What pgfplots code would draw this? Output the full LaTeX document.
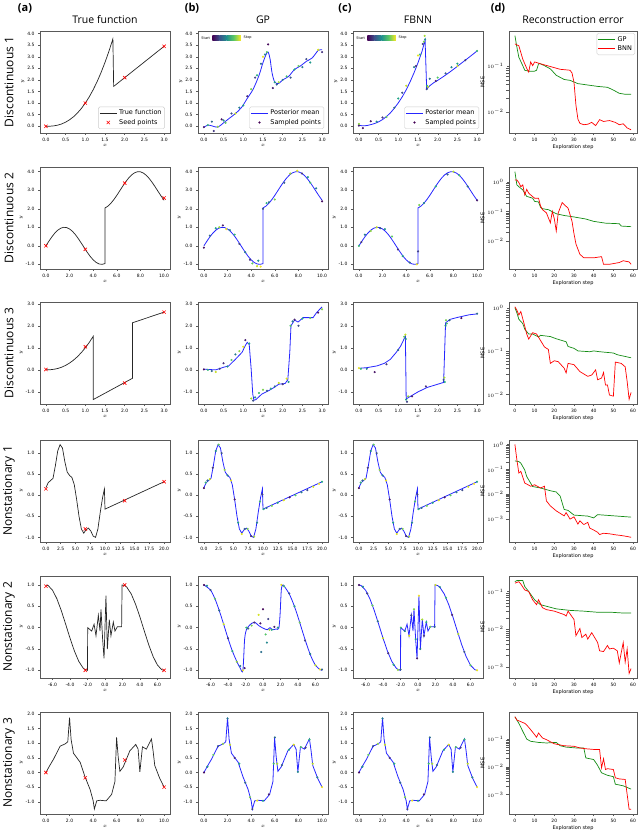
\documentclass[border=0pt]{standalone}
\usepackage{fontspec}
\setmainfont{DejaVu Sans}
\newfontfamily\titlefont{Open Sans}
\usepackage{pgfplots}
\usepackage{pgfplotstable}
\pgfplotsset{compat=1.18}

\definecolor{gpgreen}{RGB}{20,140,20}
\definecolor{v0}{HTML}{440154}
\definecolor{v1}{HTML}{3B528B}
\definecolor{v2}{HTML}{21918C}
\definecolor{v3}{HTML}{5EC962}
\definecolor{v4}{HTML}{FDE725}

\tikzset{cbar/.style={font=\fontsize{3.5}{4}\selectfont, inner sep=0pt, anchor=west},
  truef/.style={black!85, line width=0.7pt},
  seed/.style={only marks, mark=x, mark size=2.3pt, red, line width=0.6pt},
  mean/.style={blue, line width=0.8pt, opacity=0.85},
  gpl/.style={gpgreen, line width=0.7pt},
  bnnl/.style={red, line width=0.7pt}}
\newcommand{\colbar}{%
  \shade[left color=v0, right color=v1] (rel axis cs:0.110,0.905) rectangle (rel axis cs:0.166,0.96);
  \shade[left color=v1, right color=v2] (rel axis cs:0.165,0.905) rectangle (rel axis cs:0.221,0.96);
  \shade[left color=v2, right color=v3] (rel axis cs:0.220,0.905) rectangle (rel axis cs:0.276,0.96);
  \shade[left color=v3, right color=v4] (rel axis cs:0.275,0.905) rectangle (rel axis cs:0.330,0.96);
  \node[cbar] at (rel axis cs:0.025,0.932) {Start};
  \node[cbar] at (rel axis cs:0.35,0.932) {Stop};}
\pgfplotsset{
  base/.style={scale only axis, anchor=north west, height=102pt,
    axis line style={black!65, line width=0.6pt},
    tick style={black!65, line width=0.4pt}, tick align=outside,
    major tick length=2pt, xtick pos=bottom, ytick pos=left,
    ticklabel style={font=\fontsize{4.5}{5}\selectfont},
    label style={font=\fontsize{5}{5}\selectfont},
    xlabel style={yshift=4pt}, ylabel style={yshift=-4pt},
    /pgf/number format/assume math mode=true,
    colormap/viridis,
    legend style={font=\fontsize{6.5}{7.5}\selectfont, draw=black!20, rounded corners=1.5pt, inner sep=1pt, row sep=-1pt},
    legend cell align=left},
  fnax/.style={base, width=130pt, xlabel={$x$}, ylabel={$y$},
    /pgf/number format/fixed, /pgf/number format/fixed zerofill, /pgf/number format/precision=1},
  errax/.style={base, width=128pt, xmin=-3, xmax=62, xtick={0,10,...,60},
    xlabel={Exploration step}, ylabel={MSE}},
  samp/.style={forget plot, scatter, only marks, mark=*, mark size=0.85pt, scatter src=explicit,
    scatter/use mapped color={draw=mapped color, fill=mapped color}, point meta min=0, point meta max=60},
}

% ---------- functions ----------
\pgfplotstableread{
x y
0.0 0.0
0.1 0.003
0.2 0.018
0.3 0.049
0.4 0.101
0.5 0.177
0.6 0.279
0.7 0.410
0.8 0.572
0.9 0.768
1.0 1.000
1.1 1.269
1.2 1.577
1.3 1.927
1.4 2.319
1.5 2.756
1.6 3.238
1.7 3.768
1.72 1.72
3.0 3.45
}\tA
\pgfplotstableread{
x y
0.0 -0.04
0.1 0.05
0.2 0.02
0.35 -0.04
0.5 0.15
0.65 0.35
0.8 0.55
0.95 0.8
1.1 1.2
1.25 1.6
1.4 2.2
1.5 2.75
1.58 3.1
1.63 3.2
1.68 2.9
1.73 2.3
1.8 1.9
1.9 1.85
2.0 2.0
2.15 2.15
2.3 2.45
2.45 2.6
2.6 2.8
2.75 2.95
2.9 3.27
3.0 3.3
}\gA
\pgfplotstableread{
x y
0.0 0.04
0.1 0.02
0.2 0.03
0.3 0.07
0.4 0.12
0.5 0.19
0.6 0.29
0.7 0.42
0.8 0.58
0.9 0.78
1.0 1.01
1.1 1.27
1.2 1.57
1.3 1.92
1.4 2.31
1.5 2.74
1.6 3.22
1.68 3.72
1.72 1.60
1.8 1.75
1.9 1.88
2.0 1.98
2.15 2.15
2.3 2.33
2.45 2.52
2.6 2.72
2.8 2.98
3.0 3.25
}\fA
\pgfplotstableread{
x y
0.0 0.0
0.25 0.247
0.5 0.479
0.75 0.682
1.0 0.841
1.25 0.949
1.5 0.997
1.75 0.984
2.0 0.909
2.25 0.778
2.5 0.598
2.75 0.382
3.0 0.141
3.25 -0.108
3.5 -0.351
3.75 -0.572
4.0 -0.757
4.25 -0.895
4.5 -0.978
4.75 -0.999
5.0 -0.959
5.0 2.041
5.25 2.141
5.5 2.295
5.75 2.492
6.0 2.721
6.25 2.967
6.5 3.215
6.75 3.450
7.0 3.657
7.25 3.823
7.5 3.938
7.75 3.994
8.0 3.989
8.25 3.923
8.5 3.798
8.75 3.624
9.0 3.412
9.25 3.174
9.5 2.925
9.75 2.681
10.0 2.456
}\tB
\pgfplotstableread{
x y
0.0 0.0
0.1 0.005
0.2 0.025
0.3 0.063
0.4 0.122
0.5 0.203
0.6 0.309
0.7 0.440
0.8 0.599
0.9 0.785
1.0 1.0
1.1 1.245
1.2 1.521
1.2 -1.35
2.2 -0.38
2.2 2.14
3.0 2.62
}\tC
\pgfplotstableread{
x y
0.0 0.03
0.3 0.0
0.5 0.12
0.63 0.18
0.8 0.48
0.97 0.8
1.05 1.1
1.1 1.25
1.15 1.15
1.2 0.03
1.24 -1.1
1.27 -1.38
1.32 -1.35
1.47 -1.1
1.64 -0.95
1.8 -0.78
1.9 -0.65
2.06 -0.62
2.13 -0.45
2.18 0.8
2.21 2.0
2.3 2.26
2.39 2.17
2.52 2.37
2.77 2.37
2.86 2.6
3.0 2.86
}\gC
\pgfplotstableread{
x y
0.0 0.07
0.2 0.1
0.46 0.18
0.65 0.3
0.8 0.48
0.95 0.8
1.06 1.08
1.18 1.53
1.2 -1.32
1.31 -1.2
1.5 -1.0
1.73 -0.8
1.95 -0.68
2.15 -0.57
2.2 2.13
2.31 2.29
2.5 2.38
2.65 2.44
2.8 2.5
3.0 2.54
}\fC
\pgfplotstableread{
x y
0.0 0.18
0.4 0.30
0.8 0.35
1.2 0.40
1.6 0.70
2.0 1.05
2.4 1.20
2.8 1.12
3.2 0.80
3.6 0.55
4.0 0.47
4.4 0.42
4.8 0.25
5.2 -0.10
5.6 -0.50
6.0 -0.80
6.4 -0.90
6.8 -0.82
7.2 -0.78
7.6 -0.85
8.0 -0.97
8.4 -1.00
8.8 -0.80
9.2 -0.40
9.6 -0.05
9.9 0.15
10.0 -0.33
20.0 0.32
}\tD
\pgfplotstableread{
x y
-6.75 1.0
-6.5 0.986
-6.0 0.879
-5.5 0.677
-5.0 0.402
-4.5 0.083
-4.0 -0.245
-3.5 -0.546
-3.0 -0.789
-2.5 -0.946
-2.25 -0.986
-2.0 -1.0
-1.98 0.0
-1.52 -0.08
-1.25 0.08
-1.03 -0.19
-0.76 0.29
-0.57 -0.08
-0.46 0.43
-0.27 -0.27
-0.11 -0.72
0.11 0.75
0.27 -0.5
0.49 0.19
0.68 -0.19
0.95 0.13
1.14 -0.08
1.41 0.02
1.9 0.02
1.95 1.0
2.25 0.986
2.5 0.946
3.0 0.789
3.5 0.546
4.0 0.245
4.5 -0.083
5.0 -0.402
5.5 -0.677
6.0 -0.879
6.5 -0.986
6.75 -1.0
}\tE
\pgfplotstableread{
x y
-6.75 1.0
-6.0 0.88
-5.5 0.68
-5.0 0.4
-4.5 0.08
-4.0 -0.25
-3.5 -0.55
-3.0 -0.79
-2.6 -0.95
-2.3 -1.0
-2.1 -0.27
-1.9 -0.05
-1.7 0.02
-1.3 0.1
-0.9 0.12
-0.5 0.05
-0.1 0.0
0.2 -0.03
0.5 -0.05
0.8 0.0
1.1 -0.05
1.5 -0.03
1.8 -0.02
1.95 0.3
2.1 0.9
2.3 1.0
2.5 0.95
3.0 0.79
3.5 0.55
4.0 0.25
4.5 -0.08
5.0 -0.4
5.5 -0.68
6.0 -0.88
6.5 -0.98
6.75 -1.0
}\gE
\pgfplotstableread{
x y
0.0 0.0
0.3 0.22
0.65 0.46
1.2 0.9
1.63 0.98
1.85 1.05
2.0 1.88
2.13 1.14
2.33 0.66
2.9 0.35
3.3 -0.14
3.74 -0.58
4.0 -0.97
4.1 -1.25
4.3 -0.97
4.58 -0.95
5.1 -0.97
5.56 -0.75
5.84 -0.31
5.98 1.2
6.12 0.52
6.26 0.04
6.54 0.19
7.1 0.74
7.6 0.96
7.8 0.8
7.95 0.02
8.17 0.88
8.5 0.8
8.93 1.15
9.07 0.74
9.21 0.24
9.63 -0.2
10.0 -0.5
}\tF

% ---------- sampled points ----------
\pgfplotstableread{
x y s
0.00 -0.04 5
0.10 0.05 40
0.20 0.20 20
0.25 -0.20 10
0.35 -0.02 50
0.45 0.30 3
0.50 0.25 30
0.55 0.15 45
0.70 0.55 15
0.80 0.55 55
0.90 0.80 25
1.00 0.90 35
1.10 1.30 8
1.20 1.60 48
1.30 2.10 12
1.35 2.20 38
1.45 2.70 22
1.50 3.00 58
1.55 3.10 28
1.60 3.20 44
1.63 3.53 1
1.75 1.65 6
1.80 1.90 33
1.85 1.80 18
1.90 1.90 52
2.00 2.00 26
2.10 2.15 42
2.20 2.10 16
2.30 2.45 36
2.40 2.60 46
2.50 2.55 24
2.60 2.90 14
2.70 2.75 32
2.90 3.30 56
3.00 3.20 9
}\pA
\pgfplotstableread{
x y s
0.0 0.1 50
0.0 0.03 5
0.1 -0.08 2
0.3 0.22 4
0.45 0.2 30
0.6 0.38 10
0.7 0.4 45
0.9 0.8 20
1.0 1.2 35
1.1 1.45 15
1.2 1.75 55
1.4 2.55 25
1.45 2.6 8
1.5 3.05 58
1.55 3.1 40
1.62 3.55 12
1.65 3.65 48
1.67 3.9 52
1.68 3.75 30
1.72 1.6 14
1.73 1.75 38
1.75 1.7 54
1.8 2.05 22
1.95 1.95 6
2.0 2.1 44
2.2 2.28 18
2.35 2.55 28
2.5 2.6 57
2.5 2.7 34
2.7 2.85 11
3.0 3.25 42
}\qA
\pgfplotstableread{
x y s
0.0 -0.1 3
0.5 0.55 20
1.0 0.95 35
1.3 1.0 50
1.6 1.1 5
1.9 0.9 58
2.2 0.85 28
2.6 0.6 40
3.0 0.1 12
3.5 -0.35 25
3.9 -0.75 8
4.1 -0.95 45
4.5 -1.1 55
4.6 -0.8 30
4.8 -1.12 59
5.0 2.0 15
5.3 2.3 38
5.5 2.35 22
6.0 2.5 48
6.8 3.4 18
7.3 3.9 52
7.9 4.05 57
8.3 3.9 10
8.8 3.7 33
9.0 3.4 42
9.5 3.1 26
10.0 2.4 2
}\pB
\pgfplotstableread{
x y s
0.0 0.0 40
0.2 0.2 10
0.5 0.6 25
1.0 0.8 50
1.5 1.0 55
1.8 0.95 15
2.2 0.9 30
2.8 0.5 45
3.3 -0.2 8
3.7 -0.55 35
4.3 -0.9 20
4.9 -1.0 58
5.0 -0.3 12
5.1 2.2 48
5.5 2.3 28
6.5 3.2 38
7.5 3.85 18
8.0 4.0 53
8.5 3.8 42
9.2 3.2 22
10.0 2.45 5
}\qB
\pgfplotstableread{
x y s
0.0 0.02 2
0.1 0.0 40
0.2 -0.05 20
0.3 -0.1 55
0.4 0.05 12
0.5 0.3 8
0.6 0.15 30
0.7 0.45 45
0.8 0.7 25
0.9 0.85 50
1.0 1.05 58
1.05 1.35 5
1.15 1.2 35
1.2 -1.3 52
1.25 -1.4 15
1.3 -1.25 28
1.4 -1.05 42
1.5 -0.9 48
1.6 -0.95 18
1.7 -0.85 38
1.8 -0.75 22
1.9 -0.6 55
2.0 -0.65 10
2.1 -0.4 57
2.15 -0.55 32
2.2 2.0 44
2.25 2.2 26
2.3 2.28 6
2.4 2.0 14
2.5 2.33 36
2.7 2.35 46
2.9 2.6 3
3.0 2.75 49
}\pC
\pgfplotstableread{
x y s
0.0 0.08 58
0.05 0.05 40
0.2 0.05 25
0.4 -0.1 3
0.7 0.25 10
1.0 0.9 20
1.15 1.5 45
1.18 1.6 55
1.19 1.4 30
1.2 -1.35 35
1.22 -1.45 12
1.25 -1.2 50
1.35 -1.2 5
1.7 -0.75 8
2.15 -0.45 15
2.17 -0.35 52
2.18 -0.55 38
2.2 2.0 28
2.21 2.25 48
2.23 2.1 42
2.3 2.25 18
2.6 2.35 2
3.0 2.55 22
}\qC
\pgfplotstableread{
x y s
0.0 0.17 2
0.3 0.3 40
0.6 0.35 20
1.0 0.38 55
1.5 0.65 10
2.0 1.05 30
2.5 1.2 45
3.0 1.0 15
3.5 0.6 50
4.0 0.47 25
4.6 0.35 58
5.2 -0.1 5
5.8 -0.65 35
6.4 -0.92 57
6.9 -0.8 18
7.4 -0.8 48
8.0 -0.97 8
8.5 -0.98 52
9.0 -0.65 28
9.5 -0.15 42
9.9 0.02 12
10.1 -0.33 38
10.6 -0.3 22
11.5 -0.25 47
12.5 -0.18 33
13.5 -0.12 57
14.5 -0.05 4
15.5 0.0 44
16.5 0.07 24
17.5 0.12 14
18.5 0.2 56
19.5 0.27 59
20.0 0.32 36
}\pD
\pgfplotstableread{
x y s
-6.75 1.0 2
-6.4 0.98 30
-6.0 0.88 15
-5.5 0.68 45
-5.0 0.4 20
-4.5 0.08 55
-4.0 -0.25 10
-3.5 -0.55 35
-3.0 -0.8 50
-2.6 -0.9 25
-2.3 -1.0 58
-2.1 -0.95 5
-1.9 0.0 40
-1.7 -0.02 18
-1.3 0.05 48
-1.0 0.12 8
-0.5 0.3 56
-0.3 0.1 3
0.0 0.43 1
-0.2 -0.57 22
0.3 -0.16 44
0.45 -0.35 28
0.6 0.2 12
0.75 -0.05 52
1.0 -0.05 38
1.3 0.02 5
1.7 0.0 30
2.1 1.0 57
2.4 0.97 42
3.0 0.8 16
3.6 0.5 33
4.2 0.12 47
4.8 -0.3 11
5.4 -0.62 26
6.0 -0.88 54
6.5 -0.98 59
6.75 -0.98 19
}\pE
\pgfplotstableread{
x y s
-6.75 1.0 3
-6.3 0.96 30
-5.8 0.80 12
-5.2 0.52 45
-4.6 0.15 22
-4.0 -0.25 55
-3.4 -0.60 8
-2.8 -0.87 38
-2.3 -0.99 50
-2.0 -0.98 18
-1.95 0.0 42
-1.5 -0.08 27
-1.0 -0.19 57
-0.76 0.29 14
-0.46 0.43 48
-0.27 -0.27 33
-0.11 -0.72 5
0.11 0.75 59
0.27 -0.5 24
0.49 0.19 52
0.68 -0.19 10
0.95 0.13 36
1.4 0.02 46
1.9 0.02 20
2.0 1.0 56
2.5 0.95 28
3.2 0.7 40
3.9 0.3 6
4.6 -0.15 53
5.3 -0.57 16
6.0 -0.88 44
6.75 -1.0 58
}\qE
\pgfplotstableread{
x y s
0.0 0.0 2
0.3 0.2 30
0.8 0.6 45
1.2 0.9 15
1.6 0.98 50
2.0 1.85 25
2.2 0.95 55
2.6 0.5 8
3.0 0.3 38
3.5 -0.35 20
3.9 -0.85 48
4.1 -1.25 12
4.5 -0.96 58
5.0 -0.97 33
5.5 -0.75 5
5.9 0.3 42
6.0 1.2 22
6.2 0.3 52
6.6 0.25 18
7.2 0.78 35
7.6 0.95 57
7.95 0.02 28
8.2 0.87 44
8.6 0.85 10
8.93 1.13 40
9.2 0.3 54
9.6 -0.17 26
10.0 -0.5 59
}\pF

% ---------- reconstruction error ----------
\pgfplotstableread{
x y
0 4.57e-1
1 2.57e-1
2 1.55e-1
4 1.02e-1
5 8.13e-2
7 7.76e-2
10 7.76e-2
11 8.13e-2
12 1.12e-1
13 1.12e-1
15 1.02e-1
18 8.71e-2
21 6.31e-2
25 5.13e-2
28 4.90e-2
32 4.17e-2
37 3.89e-2
42 3.63e-2
47 3.47e-2
50 3.02e-2
53 2.57e-2
56 2.45e-2
59 2.45e-2
}\eAg
\pgfplotstableread{
x y
0 3.02e-1
2 2.75e-1
4 1.41e-1
6 8.91e-2
7 7.41e-2
8 1.23e-1
9 1.02e-1
10 1.23e-1
13 1.12e-1
18 9.77e-2
23 8.51e-2
28 8.13e-2
29 7.08e-2
30 4.47e-2
31 1.41e-2
32 7.08e-3
33 5.75e-3
35 5.37e-3
37 5.50e-3
39 6.03e-3
41 5.13e-3
43 6.92e-3
45 6.31e-3
48 6.61e-3
51 6.03e-3
53 5.37e-3
55 5.62e-3
57 4.57e-3
59 4.17e-3
}\eAb
\pgfplotstableread{
x y
0 2.29
1 8.13e-1
2 7.08e-1
4 5.50e-1
6 3.31e-1
9 2.88e-1
10 2.24e-1
12 2.14e-1
13 1.41e-1
14 1.26e-1
17 1.17e-1
21 8.51e-2
25 7.41e-2
30 6.61e-2
36 5.62e-2
40 4.68e-2
46 4.07e-2
53 3.89e-2
54 3.24e-2
59 3.09e-2
}\eBg
\pgfplotstableread{
x y
0 1.20
1 1.20
2 9.77e-1
3 7.08e-1
4 8.13e-1
5 3.72e-1
6 5.75e-1
7 4.27e-1
8 3.72e-1
10 2.88e-1
12 2.88e-1
13 1.58e-1
14 1.17e-1
16 9.12e-2
18 4.17e-2
19 1.02e-1
20 5.75e-2
21 2.19e-2
22 9.12e-2
24 2.04e-1
25 1.74e-1
27 1.32e-1
28 7.94e-2
29 4.68e-2
30 1.78e-2
31 7.94e-3
33 3.55e-3
35 2.69e-3
40 2.69e-3
44 2.95e-3
45 1.62e-3
48 1.62e-3
53 1.86e-3
55 2.14e-3
58 1.95e-3
59 1.62e-3
}\eBb
\pgfplotstableread{
x y
0 1.02
1 7.76e-1
2 5.50e-1
4 4.37e-1
5 3.24e-1
7 2.51e-1
9 2.51e-1
12 2.14e-1
13 2.34e-1
18 2.19e-1
21 1.95e-1
26 1.66e-1
27 1.29e-1
30 1.17e-1
32 1.02e-1
38 9.77e-2
40 1.02e-1
43 9.77e-2
50 9.12e-2
52 8.32e-2
55 7.76e-2
59 7.08e-2
}\eCg
\pgfplotstableread{
x y
0 1.07
1 8.91e-1
2 6.92e-1
3 8.32e-1
5 3.80e-1
6 2.51e-1
7 1.91e-1
9 2.69e-1
11 2.51e-1
13 1.78e-1
15 1.26e-1
17 1.10e-1
18 5.25e-2
20 6.03e-2
22 5.75e-2
25 4.07e-2
26 3.16e-2
27 5.25e-2
30 4.90e-2
33 3.39e-2
37 2.63e-2
39 2.82e-2
41 3.72e-2
42 2.19e-2
44 2.40e-2
45 3.24e-2
46 1.66e-2
47 1.66e-2
48 9.77e-3
50 9.12e-3
51 5.62e-2
53 5.37e-2
54 5.25e-2
56 4.37e-2
57 2.00e-2
58 7.76e-3
59 1.12e-2
}\eCb
\pgfplotstableread{
x y
0 2.19e-1
2 2.04e-1
3 1.78e-1
5 9.33e-2
6 5.13e-2
9 2.04e-2
13 1.78e-2
18 1.38e-2
21 1.23e-2
23 8.32e-3
25 2.45e-3
27 2.24e-3
30 1.45e-3
37 1.32e-3
40 1.12e-3
42 1.51e-3
45 1.45e-3
52 1.32e-3
59 1.20e-3
}\eDg
\pgfplotstableread{
x y
0 1.00
1 2.40e-1
2 7.08e-2
3 8.32e-2
5 2.82e-2
6 2.57e-2
8 2.09e-2
10 2.40e-2
13 1.78e-2
15 2.09e-2
16 5.37e-3
18 3.39e-3
21 2.14e-3
25 1.35e-3
26 1.82e-3
28 1.00e-3
30 1.23e-3
32 6.31e-4
33 8.51e-4
35 6.03e-4
37 7.41e-4
38 4.37e-4
40 3.63e-4
42 2.95e-4
43 2.40e-4
45 2.69e-4
48 2.57e-4
51 2.34e-4
54 2.19e-4
57 2.00e-4
59 1.86e-4
}\eDb
\pgfplotstableread{
x y
0 1.82e-1
1 1.95e-1
4 1.95e-1
5 1.35e-1
7 1.00e-1
10 6.03e-2
13 4.47e-2
16 4.07e-2
21 3.47e-2
28 3.16e-2
35 3.02e-2
42 2.82e-2
49 2.82e-2
55 2.69e-2
59 2.69e-2
}\eEg
\pgfplotstableread{
x y
0 1.66e-1
2 1.82e-1
3 1.58e-1
5 1.10e-1
7 1.00e-1
9 6.03e-2
11 4.47e-2
12 6.03e-2
14 3.72e-2
16 3.31e-2
20 3.02e-2
25 2.45e-2
26 2.24e-2
27 3.02e-2
30 1.82e-2
31 6.76e-3
33 1.05e-2
34 6.03e-3
36 7.41e-3
37 5.50e-3
39 8.13e-3
42 4.47e-3
43 2.69e-3
45 2.57e-3
47 3.72e-3
48 3.02e-3
50 3.16e-3
52 2.69e-3
53 1.29e-3
55 4.47e-3
56 1.35e-3
57 3.02e-3
58 6.76e-4
59 9.12e-4
}\eEb
\pgfplotstableread{
x y
0 6.46e-1
2 3.72e-1
4 1.91e-1
6 1.00e-1
8 8.32e-2
12 7.59e-2
16 7.24e-2
21 7.59e-2
23 5.75e-2
26 5.13e-2
31 4.79e-2
35 4.79e-2
36 2.09e-2
40 1.82e-2
42 1.12e-2
44 6.03e-3
47 4.90e-3
50 4.37e-3
51 2.34e-3
55 2.04e-3
57 1.78e-3
59 1.55e-3
}\eFg
\pgfplotstableread{
x y
0 6.46e-1
1 4.90e-1
3 4.27e-1
5 3.72e-1
6 3.24e-1
8 2.19e-1
10 1.45e-1
11 1.17e-1
12 1.66e-1
14 1.10e-1
16 9.55e-2
20 6.76e-2
25 5.75e-2
30 5.50e-2
33 4.79e-2
36 4.47e-2
41 4.17e-2
43 4.17e-2
44 9.12e-3
45 1.95e-2
46 7.94e-3
47 8.51e-3
50 7.94e-3
51 3.98e-3
53 3.63e-3
56 3.47e-3
57 1.00e-3
58 2.88e-4
59 2.88e-4
}\eFb

\begin{document}
\begin{tikzpicture}[x=1pt,y=1pt]
\useasboundingbox (0,0) rectangle (640,-830);

% column headers
\node[font=\titlefont\bfseries\fontsize{11}{12}\selectfont] at (25,-8) {(a)};
\node[font=\titlefont\bfseries\fontsize{11}{12}\selectfont] at (192,-8) {(b)};
\node[font=\titlefont\bfseries\fontsize{11}{12}\selectfont] at (345,-8) {(c)};
\node[font=\titlefont\bfseries\fontsize{11}{12}\selectfont] at (498,-8) {(d)};
\node[font=\titlefont\fontsize{10.5}{12}\selectfont] at (105,-20) {True function};
\node[font=\titlefont\fontsize{10.5}{12}\selectfont] at (263,-20) {GP};
\node[font=\titlefont\fontsize{10.5}{12}\selectfont] at (418,-20) {FBNN};
\node[font=\titlefont\fontsize{10.5}{12}\selectfont] at (573,-20) {Reconstruction error};

% row labels
\foreach \yy/\lab in {82/Discontinuous 1, 218/Discontinuous 2, 353/Discontinuous 3, 491/Nonstationary 1, 627/Nonstationary 2, 763/Nonstationary 3}
  \node[font=\titlefont\fontsize{12}{13}\selectfont, rotate=90] at (9,-\yy) {\lab};

% ================= row 1 =================
\begin{axis}[fnax, at={(40pt,-31pt)}, xmin=-0.15, xmax=3.15, ymin=-0.29, ymax=4.11,
  xtick={0,0.5,...,3}, ytick={0,0.5,...,4}, legend style={at={(0.96,0.04)}, anchor=south east}]
\addplot[black!85, line width=0.7pt] table {\tA}; \addlegendentry{True function}
\addplot[only marks, mark=x, mark size=2.3pt, red, line width=0.6pt] coordinates {(0,0) (1,1.0) (2,2.1) (3,3.45)}; \addlegendentry{Seed points}
\end{axis}
\begin{axis}[fnax, at={(198pt,-31pt)}, xmin=-0.15, xmax=3.15, ymin=-0.29, ymax=4.11,
  xtick={0,0.5,...,3}, ytick={0,0.5,...,4}, legend style={at={(0.97,0.04)}, anchor=south east}]
\addplot[blue, line width=0.8pt, opacity=0.85, smooth] table {\gA}; \addlegendentry{Posterior mean}
\addplot[samp] table[meta=s] {\pA};
\addlegendimage{only marks, mark=*, mark size=0.9pt, v0} \addlegendentry{Sampled points}
\colbar
\end{axis}
\begin{axis}[fnax, at={(353pt,-31pt)}, xmin=-0.15, xmax=3.15, ymin=-0.29, ymax=4.11,
  xtick={0,0.5,...,3}, ytick={0,0.5,...,4}, legend style={at={(0.97,0.04)}, anchor=south east}]
\addplot[blue, line width=0.8pt, opacity=0.85] table {\fA}; \addlegendentry{Posterior mean}
\addplot[samp] table[meta=s] {\qA};
\addlegendimage{only marks, mark=*, mark size=0.9pt, v0} \addlegendentry{Sampled points}
\colbar
\end{axis}
\begin{semilogyaxis}[errax, at={(509pt,-31pt)}, ymin=3.55e-3, ymax=5.75e-1,
  ytick={1e-2,1e-1}, yticklabels={$10^{-2}$,$10^{-1}$}, legend style={at={(0.985,0.98)}, anchor=north east}]
\addplot[gpgreen, line width=0.7pt] table {\eAg}; \addlegendentry{GP}
\addplot[red, line width=0.7pt] table {\eAb}; \addlegendentry{BNN}
\end{semilogyaxis}

% ================= row 2 =================
\begin{axis}[fnax, at={(40pt,-167pt)}, xmin=-0.5, xmax=10.5, ymin=-1.25, ymax=4.25,
  xtick={0,2,...,10}, ytick={-1,0,...,4}]
\addplot[truef] table {\tB};
\addplot[seed] coordinates {(0,0) (3.33,-0.19) (6.67,3.38) (10,2.58)};
\end{axis}
\begin{axis}[fnax, at={(198pt,-167pt)}, xmin=-0.5, xmax=10.5, ymin=-1.25, ymax=4.25,
  xtick={0,2,...,10}, ytick={-1,0,...,4}]
\addplot[mean] table {\tB};
\addplot[samp] table[meta=s] {\pB};
\end{axis}
\begin{axis}[fnax, at={(353pt,-167pt)}, xmin=-0.5, xmax=10.5, ymin=-1.25, ymax=4.25,
  xtick={0,2,...,10}, ytick={-1,0,...,4}]
\addplot[mean] table {\tB};
\addplot[samp] table[meta=s] {\qB};
\end{axis}
\begin{semilogyaxis}[errax, at={(509pt,-167pt)}, ymin=1.12e-3, ymax=3.31,
  ytick={1e-2,1e-1,1}, yticklabels={$10^{-2}$,$10^{-1}$,$10^{0}$}]
\addplot[gpl] table {\eBg};
\addplot[bnnl] table {\eBb};
\end{semilogyaxis}

% ================= row 3 =================
\begin{axis}[fnax, at={(40pt,-302pt)}, xmin=-0.15, xmax=3.15, ymin=-1.55, ymax=3.08,
  xtick={0,0.5,...,3}, ytick={-1,0,...,3}]
\addplot[truef] table {\tC};
\addplot[seed] coordinates {(0,0.02) (1,1.05) (2,-0.6) (3,2.62)};
\end{axis}
\begin{axis}[fnax, at={(198pt,-302pt)}, xmin=-0.15, xmax=3.15, ymin=-1.55, ymax=3.08,
  xtick={0,0.5,...,3}, ytick={-1,0,...,3}]
\addplot[mean] table {\gC};
\addplot[samp] table[meta=s] {\pC};
\end{axis}
\begin{axis}[fnax, at={(353pt,-302pt)}, xmin=-0.15, xmax=3.15, ymin=-1.55, ymax=3.08,
  xtick={0,0.5,...,3}, ytick={-1,0,...,3}]
\addplot[mean] table {\fC};
\addplot[samp] table[meta=s] {\qC};
\end{axis}
\begin{semilogyaxis}[errax, at={(509pt,-302pt)}, ymin=6.03e-3, ymax=1.38,
  ytick={1e-2,1e-1,1}, yticklabels={$10^{-2}$,$10^{-1}$,$10^{0}$}]
\addplot[gpl] table {\eCg};
\addplot[bnnl] table {\eCb};
\end{semilogyaxis}

% ================= row 4 =================
\begin{axis}[fnax, at={(40pt,-440pt)}, xmin=-1, xmax=21, ymin=-1.11, ymax=1.31,
  xtick={0,2.5,...,20}, ytick={-1,-0.5,...,1}]
\addplot[truef] table {\tD};
\addplot[seed] coordinates {(0,0.15) (6.67,-0.8) (13.33,-0.13) (20,0.32)};
\end{axis}
\begin{axis}[fnax, at={(198pt,-440pt)}, xmin=-1, xmax=21, ymin=-1.11, ymax=1.31,
  xtick={0,2.5,...,20}, ytick={-1,-0.5,...,1}]
\addplot[mean] table {\tD};
\addplot[samp] table[meta=s] {\pD};
\end{axis}
\begin{axis}[fnax, at={(353pt,-440pt)}, xmin=-1, xmax=21, ymin=-1.11, ymax=1.31,
  xtick={0,2.5,...,20}, ytick={-1,-0.5,...,1}]
\addplot[mean] table {\tD};
\addplot[samp] table[meta=s] {\pD};
\end{axis}
\begin{semilogyaxis}[errax, at={(509pt,-440pt)}, ymin=1.2e-4, ymax=1.51,
  ytick={1e-3,1e-2,1e-1,1}, yticklabels={$10^{-3}$,$10^{-2}$,$10^{-1}$,$10^{0}$}]
\addplot[gpl] table {\eDg};
\addplot[bnnl] table {\eDb};
\end{semilogyaxis}

% ================= row 5 =================
\begin{axis}[fnax, at={(40pt,-576pt)}, xmin=-7.43, xmax=7.43, ymin=-1.18, ymax=1.21,
  xtick={-6,-4,...,6}, ytick={-1,-0.5,...,1}]
\addplot[truef] table {\tE};
\addplot[seed] coordinates {(-6.75,0.97) (-2.25,-1.0) (2.25,1.0) (6.75,-1.0)};
\end{axis}
\begin{axis}[fnax, at={(198pt,-576pt)}, xmin=-7.43, xmax=7.43, ymin=-1.18, ymax=1.21,
  xtick={-6,-4,...,6}, ytick={-1,-0.5,...,1}]
\addplot[mean, smooth] table {\gE};
\addplot[samp] table[meta=s] {\pE};
\end{axis}
\begin{axis}[fnax, at={(353pt,-576pt)}, xmin=-7.43, xmax=7.43, ymin=-1.18, ymax=1.21,
  xtick={-6,-4,...,6}, ytick={-1,-0.5,...,1}]
\addplot[mean] table {\tE};
\addplot[samp] table[meta=s] {\qE};
\end{axis}
\begin{semilogyaxis}[errax, at={(509pt,-576pt)}, ymin=5.13e-4, ymax=2.57e-1,
  ytick={1e-3,1e-2,1e-1}, yticklabels={$10^{-3}$,$10^{-2}$,$10^{-1}$}]
\addplot[gpl] table {\eEg};
\addplot[bnnl] table {\eEb};
\end{semilogyaxis}

% ================= row 6 =================
\begin{axis}[fnax, at={(40pt,-712pt)}, xmin=-0.5, xmax=10.5, ymin=-1.42, ymax=2.07,
  xtick={0,2,...,10}, ytick={-1,-0.5,...,2}]
\addplot[truef] table {\tF};
\addplot[seed] coordinates {(0,0.0) (3.33,-0.18) (6.67,0.43) (10,-0.5)};
\end{axis}
\begin{axis}[fnax, at={(198pt,-712pt)}, xmin=-0.5, xmax=10.5, ymin=-1.42, ymax=2.07,
  xtick={0,2,...,10}, ytick={-1,-0.5,...,2}]
\addplot[mean] table {\tF};
\addplot[samp] table[meta=s] {\pF};
\end{axis}
\begin{axis}[fnax, at={(353pt,-712pt)}, xmin=-0.5, xmax=10.5, ymin=-1.42, ymax=2.07,
  xtick={0,2,...,10}, ytick={-1,-0.5,...,2}]
\addplot[mean] table {\tF};
\addplot[samp] table[meta=s] {\pF};
\end{axis}
\begin{semilogyaxis}[errax, at={(509pt,-712pt)}, ymin=1.95e-4, ymax=9.55e-1,
  ytick={1e-3,1e-2,1e-1}, yticklabels={$10^{-3}$,$10^{-2}$,$10^{-1}$}]
\addplot[gpl] table {\eFg};
\addplot[bnnl] table {\eFb};
\end{semilogyaxis}
\end{tikzpicture}
\end{document}
